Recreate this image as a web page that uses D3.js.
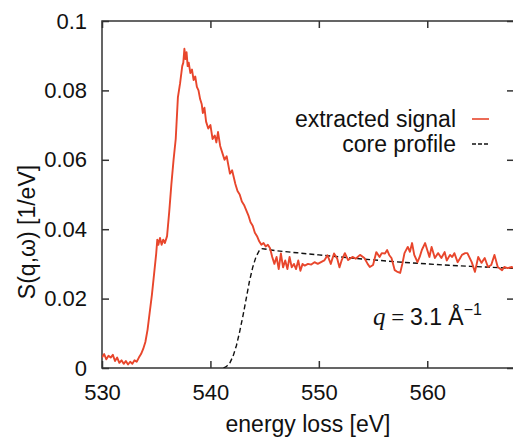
<!DOCTYPE html>
<html>
<head>
<meta charset="utf-8">
<script src="https://cdn.jsdelivr.net/npm/d3@7"></script>
<style>
  body { margin: 0; background: #fff; }
  svg { display: block; font-family: "Liberation Sans", Arial, Helvetica, sans-serif; }
</style>
</head>
<body>
<svg id="chart"></svg>
<script>
const width = 513;
const height = 437;
const margin = { top: 21, right: -1, bottom: 69, left: 102 };

// extracted signal: [energy loss (eV), S(q,w) (1/eV)]
const signalData = [
  [530.0, 0.0030], [530.2, 0.0040], [530.4, 0.0025], [530.6, 0.0035], [530.8, 0.0030],
  [531.0, 0.0038], [531.2, 0.0020], [531.4, 0.0030], [531.6, 0.0015], [531.8, 0.0022],
  [532.0, 0.0012], [532.2, 0.0020], [532.4, 0.0010], [532.6, 0.0018], [532.8, 0.0012],
  [533.0, 0.0022], [533.2, 0.0018], [533.4, 0.0030], [533.6, 0.0040], [533.8, 0.0055],
  [534.0, 0.0075], [534.2, 0.0110], [534.4, 0.0160], [534.6, 0.0210], [534.8, 0.0270],
  [535.0, 0.0330], [535.1, 0.0370], [535.2, 0.0355], [535.35, 0.0375], [535.5, 0.0355],
  [535.65, 0.0370], [535.8, 0.0360], [536.0, 0.0380], [536.2, 0.0450], [536.4, 0.0530],
  [536.6, 0.0600], [536.8, 0.0660], [537.0, 0.0780], [537.2, 0.0820], [537.4, 0.0870],
  [537.5, 0.0880], [537.6, 0.0920], [537.7, 0.0890], [537.8, 0.0910], [537.9, 0.0870],
  [538.0, 0.0880], [538.15, 0.0850], [538.3, 0.0860], [538.45, 0.0830], [538.6, 0.0840],
  [538.75, 0.0810], [538.9, 0.0800], [539.05, 0.0775], [539.2, 0.0760], [539.3, 0.0735],
  [539.45, 0.0750], [539.6, 0.0710], [539.8, 0.0690], [540.0, 0.0700], [540.2, 0.0660],
  [540.4, 0.0670], [540.55, 0.0650], [540.7, 0.0680], [540.9, 0.0640], [541.1, 0.0620],
  [541.3, 0.0600], [541.5, 0.0610], [541.8, 0.0560], [542.0, 0.0570], [542.3, 0.0530],
  [542.5, 0.0510], [542.7, 0.0500], [542.9, 0.0480], [543.1, 0.0470], [543.3, 0.0455],
  [543.5, 0.0440], [543.7, 0.0420], [543.9, 0.0410], [544.1, 0.0390], [544.3, 0.0380],
  [544.5, 0.0365], [544.7, 0.0355], [544.9, 0.0360], [545.1, 0.0350], [545.3, 0.0355],
  [545.5, 0.0345], [545.7, 0.0320], [545.9, 0.0300], [546.1, 0.0320], [546.3, 0.0285],
  [546.5, 0.0330], [546.7, 0.0290], [546.9, 0.0310], [547.1, 0.0285], [547.3, 0.0320],
  [547.5, 0.0290], [547.7, 0.0300], [547.9, 0.0285], [548.1, 0.0310], [548.3, 0.0280],
  [548.5, 0.0300], [548.7, 0.0295], [549.0, 0.0300], [549.3, 0.0298], [549.6, 0.0305],
  [549.9, 0.0300], [550.2, 0.0305], [550.5, 0.0310], [550.8, 0.0325], [551.1, 0.0300],
  [551.4, 0.0330], [551.7, 0.0315], [551.9, 0.0290], [552.1, 0.0310], [552.4, 0.0331],
  [552.7, 0.0311], [553.1, 0.0320], [553.4, 0.0315], [553.8, 0.0326], [554.2, 0.0317],
  [554.5, 0.0300], [554.7, 0.0291], [555.0, 0.0297], [555.3, 0.0334], [555.6, 0.0320],
  [555.8, 0.0331], [556.1, 0.0330], [556.3, 0.0340], [556.5, 0.0325], [556.7, 0.0317],
  [557.0, 0.0282], [557.2, 0.0278], [557.5, 0.0274], [557.7, 0.0300], [557.9, 0.0331],
  [558.2, 0.0349], [558.4, 0.0335], [558.6, 0.0360], [558.8, 0.0326], [559.1, 0.0305],
  [559.3, 0.0320], [559.5, 0.0340], [559.8, 0.0360], [560.0, 0.0340], [560.2, 0.0320],
  [560.4, 0.0349], [560.7, 0.0317], [561.0, 0.0331], [561.3, 0.0317], [561.6, 0.0334],
  [561.8, 0.0310], [562.1, 0.0326], [562.3, 0.0320], [562.5, 0.0331], [562.8, 0.0305],
  [563.0, 0.0315], [563.2, 0.0326], [563.5, 0.0331], [563.7, 0.0331], [564.1, 0.0305],
  [564.4, 0.0277], [564.7, 0.0320], [565.0, 0.0303], [565.3, 0.0317], [565.6, 0.0291],
  [565.9, 0.0297], [566.2, 0.0326], [566.5, 0.0291], [566.9, 0.0282], [567.1, 0.0291],
  [567.4, 0.0288], [567.8, 0.0291], [568.0, 0.0288]
];

// core profile (dashed)
const coreData = [
  [541.2, 0.0], [541.5, 0.0005], [541.8, 0.0015], [542.1, 0.0035], [542.4, 0.0065],
  [542.7, 0.0105], [543.0, 0.0150], [543.3, 0.0200], [543.6, 0.0250], [543.9, 0.0290],
  [544.2, 0.0320], [544.5, 0.0338], [544.7, 0.0344], [545.0, 0.0343], [546.0, 0.0338],
  [548.0, 0.0332], [550.0, 0.0326], [552.0, 0.0320], [554.0, 0.0314], [556.0, 0.0309],
  [558.0, 0.0304], [560.0, 0.0300], [562.0, 0.0296], [564.0, 0.0293], [566.0, 0.0290],
  [568.0, 0.0287]
];

const xTicks = [530, 540, 550, 560];
const yTicks = [0, 0.02, 0.04, 0.06, 0.08, 0.1];
const yTickLabels = ["0", "0.02", "0.04", "0.06", "0.08", "0.1"];
const seriesNames = ["extracted signal", "core profile"];

const redColor = "#e8462c";
const axisColor = "#333";

const svg = d3.select("#chart")
    .attr("width", width)
    .attr("height", height);

const x = d3.scaleLinear()
    .domain([530, 568])
    .range([margin.left, width - margin.right]);

const y = d3.scaleLinear()
    .domain([0, 0.1])
    .range([height - margin.bottom, margin.top]);

svg.append("defs").append("clipPath")
    .attr("id", "plot-clip")
    .append("rect")
    .attr("x", x(530))
    .attr("y", y(0.1))
    .attr("width", x(568) - x(530))
    .attr("height", y(0) - y(0.1));

// axes with inward ticks
const bottomAxis = svg.append("g")
    .attr("transform", `translate(0, ${y(0)})`)
    .call(d3.axisBottom(x).tickValues(xTicks).tickSize(-7).tickPadding(16).tickFormat(d3.format("d")));

const topAxis = svg.append("g")
    .attr("transform", `translate(0, ${y(0.1)})`)
    .call(d3.axisTop(x).tickValues(xTicks).tickSize(-7).tickFormat(""));

const leftAxis = svg.append("g")
    .attr("transform", `translate(${x(530)}, 0)`)
    .call(d3.axisLeft(y).tickValues(yTicks).tickSize(-7).tickPadding(15)
        .tickFormat((d, i) => yTickLabels[i]));

const rightAxis = svg.append("g")
    .attr("transform", `translate(${x(568)}, 0)`)
    .call(d3.axisRight(y).tickValues(yTicks).tickSize(-7).tickFormat(""));

[bottomAxis, topAxis, leftAxis, rightAxis].forEach(g => {
    g.select(".domain").remove();
    g.selectAll(".tick line").attr("stroke", axisColor).attr("stroke-width", 1.5);
    g.selectAll(".tick text")
        .attr("fill", "#111")
        .style("font-size", "22px")
        .style("font-family", "'Liberation Sans', Arial, sans-serif");
});

svg.append("rect")
    .attr("x", x(530))
    .attr("y", y(0.1))
    .attr("width", x(568) - x(530))
    .attr("height", y(0) - y(0.1))
    .attr("fill", "none")
    .attr("stroke", axisColor)
    .attr("stroke-width", 1.5);

// axis titles
svg.append("text")
    .attr("x", (x(530) + x(568)) / 2)
    .attr("y", 432)
    .attr("text-anchor", "middle")
    .attr("fill", "#111")
    .style("font-size", "23px")
    .text("energy loss [eV]");

svg.append("text")
    .attr("transform", "rotate(-90)")
    .attr("x", -232)
    .attr("y", 35)
    .attr("text-anchor", "middle")
    .attr("fill", "#111")
    .style("font-size", "23px")
    .text("S(q,ω) [1/eV]");

// curves
const line = d3.line()
    .x(d => x(d[0]))
    .y(d => y(d[1]));

const plot = svg.append("g").attr("clip-path", "url(#plot-clip)");

plot.append("path")
    .datum(coreData)
    .attr("fill", "none")
    .attr("stroke", "#111")
    .attr("stroke-width", 1.4)
    .attr("stroke-dasharray", "5,3")
    .attr("d", line);

plot.append("path")
    .datum(signalData)
    .attr("fill", "none")
    .attr("stroke", redColor)
    .attr("stroke-width", 1.9)
    .attr("stroke-linejoin", "round")
    .attr("d", line);

// legend
const legend = svg.append("g");
seriesNames.forEach((name, i) => {
    const ly = 127 + i * 25;
    legend.append("text")
        .attr("x", 456)
        .attr("y", ly)
        .attr("text-anchor", "end")
        .attr("fill", "#111")
        .style("font-size", "23px")
        .text(name);
    legend.append("line")
        .attr("x1", 472)
        .attr("x2", 489)
        .attr("y1", ly - 8)
        .attr("y2", ly - 8)
        .attr("stroke", i === 0 ? redColor : "#111")
        .attr("stroke-width", i === 0 ? 1.6 : 1.3)
        .attr("stroke-dasharray", i === 0 ? null : "4,2");
});

// annotation
const note = svg.append("text")
    .attr("x", 373)
    .attr("y", 325)
    .attr("fill", "#111")
    .style("font-size", "23px");
note.append("tspan")
    .style("font-family", "'Liberation Serif', 'Times New Roman', serif")
    .style("font-style", "italic")
    .style("font-size", "25px")
    .text("q");
note.append("tspan")
    .style("font-family", "'Liberation Serif', 'Times New Roman', serif")
    .text(" = ");
note.append("tspan").text("3.1 Å");
note.append("tspan")
    .attr("dy", -10)
    .style("font-size", "16px")
    .text("−1");
</script>
</body>
</html>
